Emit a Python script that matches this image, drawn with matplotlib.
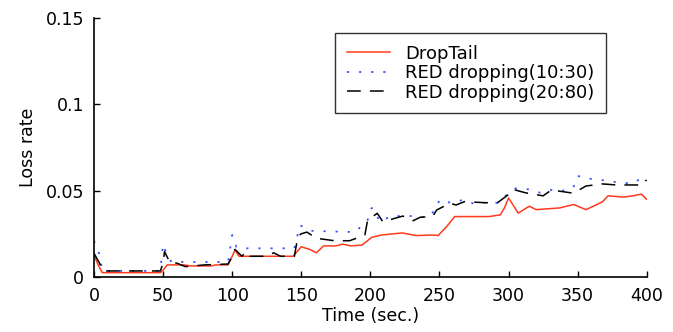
import matplotlib
matplotlib.use("Agg")
import matplotlib.pyplot as plt

plt.rcParams['font.family'] = ['DejaVu Sans']

# DropTail loss rate
t_droptail = [0, 3, 6, 20, 40, 48, 50, 53, 65, 70, 85, 88, 97, 100, 102, 105, 120, 144,
              150, 156, 161, 166, 175, 180, 186, 194, 201, 208, 223, 233, 245, 249, 255,
              261, 286, 294, 297, 300, 303, 307, 315, 320, 337, 347, 356, 364, 368, 372,
              383, 390, 396, 400]
v_droptail = [0.0127, 0.007, 0.0025, 0.0025, 0.0025, 0.0025, 0.004, 0.007, 0.007, 0.0064,
              0.0064, 0.007, 0.007, 0.012, 0.0156, 0.012, 0.012, 0.012,
              0.0175, 0.016, 0.014, 0.018, 0.018, 0.019, 0.018, 0.0185, 0.023, 0.0243,
              0.0255, 0.024, 0.0243, 0.024, 0.029,
              0.035, 0.035, 0.036, 0.040, 0.0457, 0.042, 0.037, 0.041, 0.039, 0.040, 0.042,
              0.039, 0.042, 0.0436, 0.047, 0.0463, 0.047, 0.048, 0.045]

# RED dropping (10:30)
t_red1030 = [0, 3.6, 6, 8, 48, 49, 50, 52, 56, 97, 100, 103, 107, 110, 145, 149, 154, 158,
             189, 198, 201, 203, 207, 215, 232, 241, 247, 250, 258, 267, 274, 284, 292,
             298.5, 305, 314, 323, 331, 341, 347, 350, 361, 371, 380, 390, 397, 400]
v_red1030 = [0.021, 0.0137, 0.004, 0.0035, 0.0035, 0.0114, 0.019, 0.0145, 0.0087, 0.0087,
             0.0243, 0.0175, 0.0175, 0.0166, 0.0166, 0.030, 0.0278, 0.0267,
             0.026, 0.033, 0.040, 0.0375, 0.032, 0.0353, 0.0353, 0.0344, 0.0388, 0.0446,
             0.043, 0.0446, 0.0427, 0.043, 0.043,
             0.0475, 0.0513, 0.0508, 0.0488, 0.0504, 0.050, 0.052, 0.0585, 0.0566, 0.0558,
             0.0546, 0.0542, 0.0577, 0.056]

# RED dropping (20:80)
t_red2080 = [0, 4, 6.5, 48, 50, 51, 55, 60, 66, 80, 97, 100, 102, 107, 110, 113, 125, 130,
             135, 145, 147.6, 150, 154, 161, 174, 185, 196, 198, 205, 209, 223.5, 231, 236,
             245, 248, 257.5, 262, 268, 284, 292, 299.5, 303, 312, 325, 331, 347, 356,
             368, 378, 393, 396, 399, 400]
v_red2080 = [0.0137, 0.008, 0.0035, 0.0035, 0.008, 0.0147, 0.0083, 0.008, 0.006, 0.007,
             0.0075, 0.012, 0.016, 0.012, 0.0147, 0.012, 0.012, 0.014,
             0.012, 0.012, 0.0237, 0.025, 0.026, 0.0224, 0.021, 0.021, 0.0243, 0.033,
             0.0369, 0.032, 0.0353, 0.0326, 0.0346,
             0.035, 0.0388, 0.0427, 0.0417, 0.0436, 0.043, 0.043, 0.0475, 0.0508, 0.0488,
             0.047, 0.0504, 0.0485, 0.0527,
             0.0539, 0.0533, 0.0533, 0.053, 0.0558, 0.056]

x_ticks = [0, 50, 100, 150, 200, 250, 300, 350, 400]
y_ticks = [0, 0.05, 0.1, 0.15]
y_tick_labels = ['0', '0.05', '0.1', '0.15']

FS = 12.5
LEG_FS = 13

fig = plt.figure(figsize=(6.73, 3.32), dpi=100)
ax = fig.add_axes([0.1397, 0.1657, 0.8213, 0.7801])

ax.plot(t_droptail, v_droptail, color='#ff3a1c', lw=1.1, label='DropTail')
ax.plot(t_red1030, v_red1030, color='#3a55ff', lw=1.3, dashes=(1.2, 5.5),
        label='RED dropping(10:30)')
ax.plot(t_red2080, v_red2080, color='black', lw=1.1, dashes=(9, 6),
        label='RED dropping(20:80)')

ax.set_xlim(0, 400)
ax.set_ylim(0, 0.15)
ax.set_xticks(x_ticks)
ax.set_xticklabels([str(x) for x in x_ticks])
ax.set_yticks(y_ticks)
ax.set_yticklabels(y_tick_labels)
ax.tick_params(direction='in', length=4, width=1, labelsize=FS)
ax.tick_params(axis='x', pad=7)
ax.tick_params(axis='y', pad=7)
ax.spines['top'].set_visible(False)
ax.spines['right'].set_visible(False)
for s in ('left', 'bottom'):
    ax.spines[s].set_linewidth(1.2)

ax.set_xlabel('Time (sec.)', fontsize=FS, labelpad=2)
ax.set_ylabel('Loss rate', fontsize=FS, labelpad=6)

leg = ax.legend(loc='upper left', bbox_to_anchor=(335 / 673, 1 - 33 / 332),
                bbox_transform=fig.transFigure, fontsize=LEG_FS, frameon=True,
                fancybox=False, edgecolor='black', handlelength=2.4,
                labelspacing=0.08, borderpad=0.65, handletextpad=0.85,
                borderaxespad=0)
leg.get_frame().set_linewidth(1.0)

fig.savefig('out.png', dpi=100)
